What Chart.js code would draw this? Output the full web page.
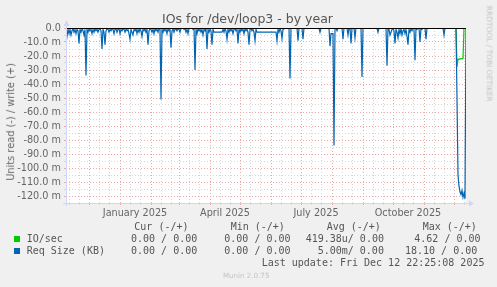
<!DOCTYPE html>
<html>
<head>
<meta charset="utf-8">
<script src="https://cdn.jsdelivr.net/npm/chart.js@4.4.1/dist/chart.umd.min.js"></script>
<style>
  html, body { margin: 0; padding: 0; background: #f0f0f0; }
  #wrap { position: relative; width: 497px; height: 287px; overflow: hidden; font-family: "DejaVu Sans", sans-serif; color: #666; }
  #wrap canvas { position: absolute; left: 0; top: 0; }
  .t { position: absolute; white-space: pre; line-height: 1; }
  .mono { font-family: "DejaVu Sans Mono", monospace; font-size: 10px; color: #555; }
  .sq { position: absolute; width: 6px; height: 6px; }
</style>
</head>
<body>
<div id="wrap">
  <canvas id="chart" width="497" height="287"></canvas>

  <div class="t" style="left:-1px;width:497px;text-align:center;top:12.7px;font-size:12.5px;color:#555">IOs for /dev/loop3 - by year</div>
  <div class="t" style="left:-89.4px;width:200px;text-align:center;top:117px;font-size:9.8px;line-height:9.8px;transform:rotate(-90deg)">Units read (-) / write (+)</div>
  <div class="t" style="left:439px;width:100px;text-align:center;top:50.3px;font-size:7.45px;line-height:7.45px;color:#c4c4c4;transform:rotate(90deg)">RRDTOOL / TOBI OETIKER</div>

  <div class="t mono" style="left:134.3px;top:222px">Cur (-/+)</div>
  <div class="t mono" style="left:230.7px;top:222px">Min (-/+)</div>
  <div class="t mono" style="left:326.7px;top:222px">Avg (-/+)</div>
  <div class="t mono" style="left:422.7px;top:222px">Max (-/+)</div>

  <div class="sq" style="left:14px;top:236px;background:#00cc00"></div>
  <div class="t mono" style="left:26.7px;top:234px">IO/sec</div>
  <div class="t mono" style="left:131px;top:234px">0.00 / 0.00</div>
  <div class="t mono" style="left:224.3px;top:234px">0.00 / 0.00</div>
  <div class="t mono" style="left:305.7px;top:234px">419.38u/ 0.00</div>
  <div class="t mono" style="left:414.3px;top:234px">4.62 / 0.00</div>

  <div class="sq" style="left:14px;top:248px;background:#0066b3"></div>
  <div class="t mono" style="left:26.7px;top:246px">Req Size (KB)</div>
  <div class="t mono" style="left:131px;top:246px">0.00 / 0.00</div>
  <div class="t mono" style="left:224.3px;top:246px">0.00 / 0.00</div>
  <div class="t mono" style="left:317.7px;top:246px">5.00m/ 0.00</div>
  <div class="t mono" style="left:405px;top:246px">18.10 / 0.00</div>

  <div class="t mono" style="left:261.7px;top:257.7px">Last update: Fri Dec 12 22:25:08 2025</div>
  <div class="t" style="left:223px;top:272.3px;font-size:7.1px;color:#c4c4c4">Munin 2.0.75</div>
</div>

<script>
// days since 2024-11-08 (one pixel per day on the rrd year graph)
const monthStartDays = [23, 54, 85, 113, 144, 174, 205, 235, 266, 297, 327, 358, 388];
const minorDays = [3, 13, 33, 43, 64, 74, 95, 105, 123, 133, 154, 164, 184, 194, 215, 225,
                   245, 255, 276, 286, 307, 317, 337, 347, 368, 378, 398];
const monthLabelDays = [69, 159, 250, 342];
const monthLabels = ['January 2025', 'April 2025', 'July 2025', 'October 2025'];

const yTickValues = [0, -10, -20, -30, -40, -50, -60, -70, -80, -90, -100, -110, -120];
const yTickLabels = ['0.0', '-10.0 m', '-20.0 m', '-30.0 m', '-40.0 m', '-50.0 m', '-60.0 m',
                     '-70.0 m', '-80.0 m', '-90.0 m', '-100.0 m', '-110.0 m', '-120.0 m'];
const yMinorValues = [-5, -15, -25, -35, -45, -55, -65, -75, -85, -95, -105, -115];

// Req Size (KB), read side, one value per day (milli units)
const reqSize = [
  -2, -6, -1, -4, -1, -5, -2, -0.5, -3, -1,
  -4, -1, -2, -11, -1, -3, -0.5, -2, -5, -1,
  -34, -1, -3, -0.5, -2, -1, -4, -1, -3, -0.5,
  -2, -1, -3, -1, -0.5, -2, -15, -1, -3, -12,
  -2, -0.5, -1, -3, -1, -2, -0.5, -1, -4, -1,
  -0.5, -3, -1, -0.5, -4, -1, -2, -0.5, -1, -3,
  -1, -2, -1, -4, -8, -1, -3, -5, -1, -2,
  -0.5, -4, -1, -3, -0.5, -2, -6, -1, -2, -0.5,
  -3, -1, -12, -2, -0.5, -1, -3, -1, -4, -0.5,
  -2, -1, -3, -0.5, -1, -51, -1, -3, -0.5, -2,
  -1, -4, -0.5, -2, -1, -14, -2, -0.5, -3, -1,
  -0.5, -2, -0.5, -1, -3, -0.5, 0, 0, -1, -0.5,
  -3, -1, -4, -0.5, 0, 0, 0, -1, 0, -30,
  -1, -4, -0.5, -2, -1, -3, -1, -5, -1, -2,
  -0.5, -15, -1, -3, -0.5, -2, -12, -1, -3, -3,
  -3, -3, -3, -3, -3, -3, -3, -1, -3, -0.5,
  -2, -8, -1, -3, -0.5, -2, -1, -4, -1, -0.5,
  -2, -1, -11, -1, -3, -0.5, -2, -1, -4, -0.5,
  -2, -1, -3, -12, -1, -0.5, -2, -1, -3, -9,
  -1, -3, -3, -3, -3, -3, -3, -3, -3, -3,
  -3, -3, -3, -3, -3, -3, -3, -3, -3, -3,
  -3, -9, -1, -3, -0.5, -2, -7.5, -1, -0.5, 0,
  0, 0, 0, 0, -36, 0, 0, 0, 0, 0,
  0, 0, -9, 0, 0, 0, 0, -8, 0, 0,
  0, 0, 0, 0, 0, 0, 0, 0, 0, 0,
  0, 0, 0, 0, -3, 0, 0, 0, 0, 0,
  0, 0, 0, 0, -13, -4, -4, -4, -84, 0,
  0, -2, 0, 0, 0, 0, 0, -8, 0, 0,
  0, 0, -5, 0, 0, -11, 0, 0, 0, -7,
  0, 0, 0, 0, 0, 0, -35, 0, 0, 0,
  0, 0, 0, 0, 0, 0, 0, 0, 0, 0,
  0, 0, -3, 0, 0, 0, 0, 0, 0, 0,
  0, -27, 0, -1, -5, -3, -1, -0.5, -2, -11,
  -1, -3, -7, -1, -4, -0.5, -5, -2, -1, -4,
  -1, -6, -12, -1, -3, -0.5, -2, 0, 0, -23,
  0, -1, 0, 0, -10, 0, -1, 0, 0, 0,
  -8, 0, 0, 0, 0, 0, 0, 0, 0, 0,
  0, 0, 0, 0, 0, 0, 0, 0, -5, 0,
  0, 0, 0, 0, 0, 0, 0, 0, 0, 0,
  0, -50, -105, -113, -117, -119, -116, -121, -118, -122,
  0
];

// IO/sec, read side, only the days where it changes
const ioDays = [0, 390, 391, 392, 397, 398, 400];
const ioVals = [0, 0, -27.6, -22.4, -21.7, 0, 0];

const MAJOR = '#eaa9a9';
const MINOR = '#d6d6d6';
const AXIS = '#cfd6f8';
const FONT = { family: 'DejaVu Sans', size: 9.7 };

const plotBg = {
  id: 'plotBg',
  beforeDraw(chart) {
    const { ctx, chartArea: a } = chart;
    ctx.save();
    ctx.fillStyle = '#ffffff';
    ctx.fillRect(a.left, a.top, a.right - a.left, a.bottom - a.top);
    ctx.restore();
  }
};

const axesDeco = {
  id: 'axesDeco',
  afterDatasetsDraw(chart) {
    const { ctx, chartArea: a } = chart;
    const y0 = Math.round(chart.scales.y.getPixelForValue(0));
    ctx.save();
    // zero line
    ctx.fillStyle = '#000000';
    ctx.fillRect(a.left, y0, a.right - a.left, 1);
    // axes + arrows
    ctx.fillStyle = AXIS;
    ctx.fillRect(a.left, 24, 1, a.bottom - 24 + 3);
    ctx.fillRect(a.left - 3, a.bottom, a.right - a.left + 7, 1);
    ctx.beginPath();
    ctx.moveTo(a.left + 0.5, 20); ctx.lineTo(a.left - 2.5, 26); ctx.lineTo(a.left + 3.5, 26);
    ctx.closePath(); ctx.fill();
    ctx.beginPath();
    ctx.moveTo(a.right + 8, a.bottom + 0.5); ctx.lineTo(a.right + 3, a.bottom - 2.5); ctx.lineTo(a.right + 3, a.bottom + 3.5);
    ctx.closePath(); ctx.fill();
    ctx.restore();
  }
};

new Chart(document.getElementById('chart'), {
  type: 'line',
  data: {
    datasets: [
      {
        label: 'Req Size (KB)',
        data: reqSize.map((v, i) => ({ x: i, y: v })),
        borderColor: '#0066b3', borderWidth: 1.2, pointRadius: 0, tension: 0, order: 0
      },
      {
        label: 'IO/sec',
        data: ioDays.map((d, i) => ({ x: d, y: ioVals[i] })),
        borderColor: '#00cc00', borderWidth: 1.2, pointRadius: 0, tension: 0, order: 1
      }
    ]
  },
  options: {
    responsive: false,
    animation: false,
    devicePixelRatio: 1,
    layout: { padding: { top: 28, right: 31, left: 0, bottom: 0 } },
    plugins: { legend: { display: false }, tooltip: { enabled: false }, title: { display: false } },
    scales: {
      x: {
        type: 'linear', min: 0, max: 400, weight: 0,
        afterBuildTicks: s => { s.ticks = monthStartDays.concat(minorDays).sort((a, b) => a - b).map(v => ({ value: v })); },
        afterFit: s => { s.height = 0; },
        ticks: { display: false },
        grid: { color: c => monthStartDays.includes(c.tick.value) ? MAJOR : MINOR, tickLength: 2 },
        border: { display: false, dash: [1, 2] }
      },
      x2: {
        type: 'linear', min: 0, max: 400, position: 'bottom', weight: 1,
        afterBuildTicks: s => { s.ticks = monthLabelDays.map(v => ({ value: v })); },
        afterFit: s => { s.height = 287 - 203; },
        ticks: {
          autoSkip: false, maxRotation: 0, minRotation: 0, padding: 5, color: '#666', font: FONT,
          callback: v => monthLabels[monthLabelDays.indexOf(v)]
        },
        grid: { display: false, drawTicks: false },
        border: { display: false }
      },
      y: {
        min: -125, max: 0,
        afterFit: s => { s.width = 66; },
        afterBuildTicks: s => { s.ticks = yTickValues.concat(yMinorValues).sort((a, b) => b - a).map(v => ({ value: v })); },
        ticks: {
          autoSkip: false, padding: 3, color: '#666', font: FONT,
          callback: v => { const i = yTickValues.indexOf(v); return i >= 0 ? yTickLabels[i] : ''; }
        },
        grid: { color: c => yTickValues.includes(c.tick.value) ? MAJOR : MINOR, tickLength: 2 },
        border: { display: false, dash: [1, 2] }
      }
    }
  },
  plugins: [plotBg, axesDeco]
});
</script>
</body>
</html>
